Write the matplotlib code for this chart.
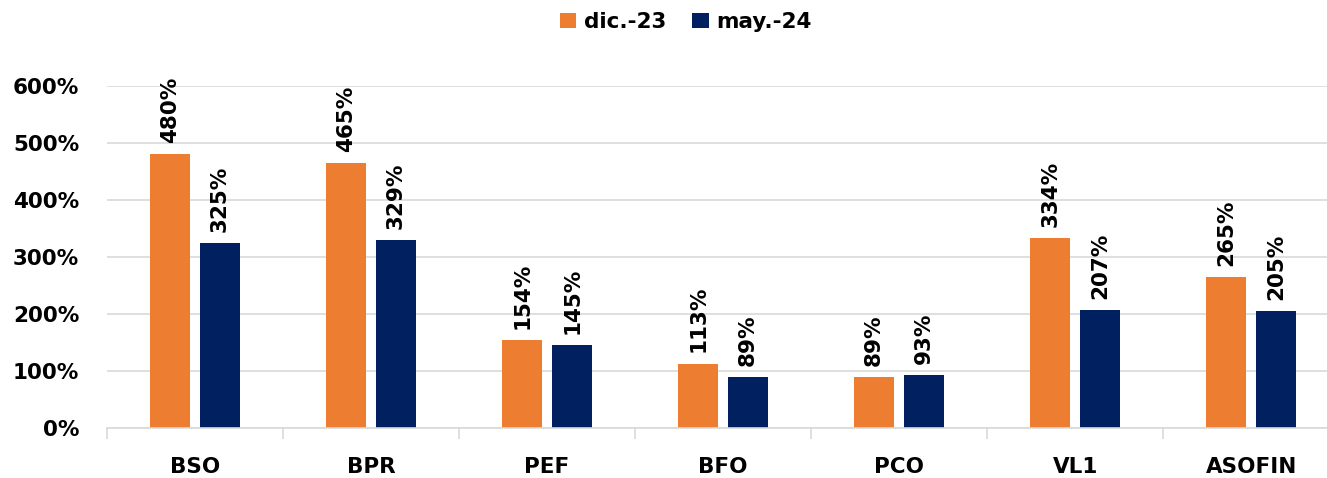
import numpy as np
import matplotlib
matplotlib.use("Agg")
import matplotlib.pyplot as plt
from matplotlib.ticker import FixedLocator, FuncFormatter

categories = ["BSO", "BPR", "PEF", "BFO", "PCO", "VL1", "ASOFIN"]
dic_23 = [480, 465, 154, 113, 89, 334, 265]
may_24 = [325, 329, 145, 89, 93, 207, 205]
series_names = ["dic.-23", "may.-24"]
y_ticks = [0, 100, 200, 300, 400, 500, 600]

orange = "#ED7D31"
navy = "#002060"
fs = 15.5

plt.rcParams['font.family'] = ['DejaVu Sans']
plt.rcParams['font.weight'] = 'bold'

fig = plt.figure(figsize=(13.27, 4.78), dpi=100)
ax = fig.add_axes([107 / 1327, 1 - 428 / 478, 1 - 107 / 1327, (428 - 86) / 478])

x = np.arange(len(categories))
w = 0.225
off = 0.142
b1 = ax.bar(x - off, dic_23, w, color=orange, label=series_names[0], zorder=3)
b2 = ax.bar(x + off, may_24, w, color=navy, label=series_names[1], zorder=3)

for bars, vals in ((b1, dic_23), (b2, may_24)):
    for rect, v in zip(bars, vals):
        ax.annotate(f"{v}%", (rect.get_x() + rect.get_width() / 2, v),
                    xytext=(0, 8), textcoords="offset points",
                    rotation=90, ha="center", va="bottom",
                    fontsize=fs, fontweight="bold", color="black",
                    annotation_clip=False)

ax.set_xlim(-0.5, 6.43)
ax.set_ylim(0, 600)
ax.set_yticks(y_ticks)
ax.yaxis.set_major_formatter(FuncFormatter(lambda v, p: f"{int(v)}%"))
ax.grid(axis="y", color="#D9D9D9", linewidth=1.2, zorder=0)

ax.set_xticks(x)
ax.set_xticklabels(categories)
ax.xaxis.set_minor_locator(FixedLocator(np.arange(-0.5, 7, 1.0)))
ax.tick_params(axis="x", which="major", length=0, pad=21, labelsize=fs)
ax.tick_params(axis="x", which="minor", length=8, width=1.2, color="#D9D9D9")
ax.tick_params(axis="y", length=0, pad=20, labelsize=fs)
for lbl in ax.get_xticklabels() + ax.get_yticklabels():
    lbl.set_fontweight("bold")

for side in ("top", "right", "left"):
    ax.spines[side].set_visible(False)
ax.spines["bottom"].set_color("#D9D9D9")
ax.spines["bottom"].set_linewidth(1.2)
ax.spines["bottom"].set_zorder(4)

fig.legend(handles=[b1, b2], labels=series_names, loc="center",
           bbox_to_anchor=(686 / 1327, 1 - 22 / 478), ncol=2, frameon=False,
           prop={"size": fs, "weight": "bold"}, handlelength=0.75,
           handleheight=0.75, handletextpad=0.37, columnspacing=1.2)

fig.savefig("out.png", dpi=100)
